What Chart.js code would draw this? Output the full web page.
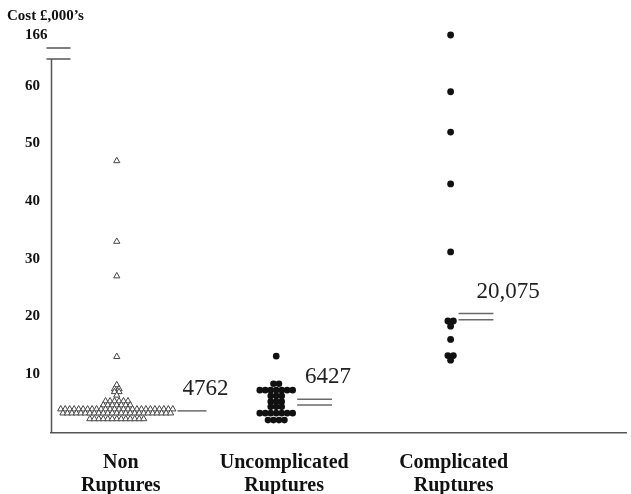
<!DOCTYPE html>
<html lang="en">
<head>
  <meta charset="UTF-8" />
  <title>Cost by rupture group</title>
  <script src="https://cdn.jsdelivr.net/npm/chart.js"></script>
  <style>
    body { margin: 0; background: #fff; }
    canvas { display: block; }
  </style>
</head>
<body>
  <canvas id="costChart" width="631" height="494"></canvas>

  <script>
    // values in £,000's, with how many marks sit at each value
    const categoryLabels = [["Non", "Ruptures"], ["Uncomplicated", "Ruptures"], ["Complicated", "Ruptures"]];

    const nonRuptureValues = [47, 33, 27, 13, 8.1, 7.4, 6.9, 6.3, 5.3, 4.6, 3.9, 3.2, 2.2];
    const nonRuptureCounts = [1, 1, 1, 1, 1, 2, 2, 1, 6, 7, 26, 25, 13];

    const uncomplicatedValues = [13.1, 8.3, 7.2, 6.2, 5.2, 4.3, 3.2, 2.0];
    const uncomplicatedCounts = [1, 2, 7, 3, 3, 3, 7, 4];

    const complicatedValues = [166, 59, 52, 43, 31.2, 19.2, 18.3, 16, 13.2, 12.4];
    const complicatedCounts = [1, 1, 1, 1, 1, 2, 1, 1, 2, 1];

    const meanLabels = ["4762", "6427", "20,075"];
    const meanLineValues = [[3.6], [5.6, 4.6], [20.5, 19.4]];

    const yTickValues = [10, 20, 30, 40, 50, 60, 166];

    // layout (x axis runs in pixels from the y axis)
    const groupCentre = [66, 226, 401];
    const labelCentre = [70, 234, 404];
    const meanLineX = [[127, 156], [247, 282], [409, 444]];
    const meanLabelX = [132, 255, 427];
    const BREAK_FROM = 64;      // values above this sit over the axis break
    const BREAK_POS = 68.85;    // where 166 is drawn on the axis

    function toAxis(v) {
      return v > BREAK_FROM ? BREAK_POS + (v - 166) * 0.01 : v;
    }

    // simple beeswarm: marks with the same value spread side by side
    function swarm(values, counts, centre, gap) {
      const pts = [];
      values.forEach((v, i) => {
        const n = counts[i];
        for (let k = 0; k < n; k++) {
          pts.push({ x: centre + (k - (n - 1) / 2) * gap, y: toAxis(v) });
        }
      });
      return pts;
    }

    const meanDatasets = [];
    meanLineValues.forEach((vals, g) => {
      vals.forEach(v => {
        meanDatasets.push({
          type: "line",
          data: [{ x: meanLineX[g][0], y: v }, { x: meanLineX[g][1], y: v }],
          borderColor: "#6a6a6a",
          borderWidth: 1.5,
          pointRadius: 0
        });
      });
    });

    const overlay = {
      id: "overlay",
      afterDraw(chart) {
        const ctx = chart.ctx;
        const xs = chart.scales.x;
        const ys = chart.scales.y;
        const area = chart.chartArea;
        ctx.save();

        // y axis with a break below 166
        ctx.strokeStyle = "#555";
        ctx.lineWidth = 1.5;
        const axisX = area.left + 0.5;
        const lowBreak = ys.getPixelForValue(64.7);
        const highBreak = ys.getPixelForValue(66.6);
        ctx.beginPath();
        ctx.moveTo(axisX, area.bottom);
        ctx.lineTo(axisX, lowBreak);
        ctx.moveTo(axisX - 5, lowBreak);
        ctx.lineTo(axisX + 19, lowBreak);
        ctx.moveTo(axisX - 5, highBreak);
        ctx.lineTo(axisX + 19, highBreak);
        ctx.stroke();

        // axis title
        ctx.fillStyle = "#111";
        ctx.font = "bold 15px 'Liberation Serif'";
        ctx.textBaseline = "middle";
        ctx.textAlign = "left";
        ctx.fillText("Cost £,000’s", 7, 16);

        // mean labels
        ctx.font = "23px 'Liberation Serif'";
        ctx.fillStyle = "#222";
        ctx.textBaseline = "alphabetic";
        meanLabels.forEach((t, g) => {
          const top = ys.getPixelForValue(meanLineValues[g][0]);
          ctx.fillText(t, xs.getPixelForValue(meanLabelX[g]), top - 16);
        });
        ctx.restore();
      }
    };

    new Chart(document.getElementById("costChart"), {
      type: "scatter",
      data: {
        datasets: [
          {
            data: swarm(nonRuptureValues, nonRuptureCounts, groupCentre[0], 4.5),
            pointStyle: "triangle",
            pointRadius: 3.6,
            backgroundColor: "#fff",
            borderColor: "#444",
            borderWidth: 1
          },
          {
            data: swarm(uncomplicatedValues, uncomplicatedCounts, groupCentre[1], 5.5),
            pointRadius: 3.3,
            backgroundColor: "#111",
            borderColor: "#111",
            borderWidth: 0
          },
          {
            data: swarm(complicatedValues, complicatedCounts, groupCentre[2], 5.5),
            pointRadius: 3.4,
            backgroundColor: "#111",
            borderColor: "#111",
            borderWidth: 0
          },
          ...meanDatasets
        ]
      },
      options: {
        responsive: false,
        animation: false,
        layout: { padding: { left: 25, top: 25, right: 3, bottom: 0 } },
        plugins: { legend: { display: false }, tooltip: { enabled: false } },
        scales: {
          x: {
            type: "linear",
            min: 0,
            max: 577,
            grid: { display: false },
            border: { display: true, color: "#555", width: 1.5 },
            afterBuildTicks: s => { s.ticks = labelCentre.map(v => ({ value: v })); },
            afterFit: s => { s.height = 61; },
            ticks: {
              autoSkip: false,
              maxRotation: 0,
              padding: 10,
              color: "#111",
              font: { family: "Liberation Serif", size: 20, weight: "bold", lineHeight: 1.15 },
              callback: (v, i) => categoryLabels[i]
            }
          },
          y: {
            type: "linear",
            min: -0.243,
            max: 70.59,
            grid: { display: false },
            border: { display: false },
            afterBuildTicks: s => { s.ticks = yTickValues.map(v => ({ value: toAxis(v) })); },
            afterFit: s => { s.width = 26; },
            ticks: {
              crossAlign: "far",
              padding: 0,
              color: "#111",
              font: { family: "Liberation Serif", size: 15, weight: "bold" },
              callback: (v, i) => String(yTickValues[i])
            }
          }
        }
      },
      plugins: [overlay]
    });
  </script>
</body>
</html>
